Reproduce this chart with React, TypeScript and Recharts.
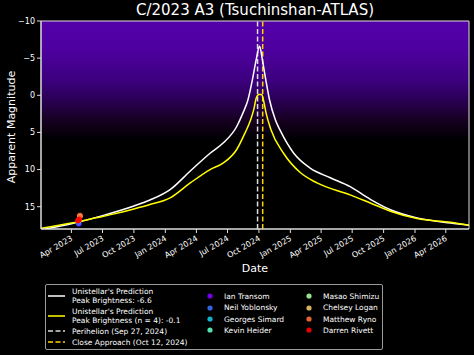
import React from 'react';
import { ComposedChart, Line, Scatter, XAxis, YAxis, ReferenceArea, ReferenceLine } from 'recharts';

const FONT = 'DejaVu Sans, Verdana, sans-serif';
const toT = (s: string) => Date.parse(s + 'T00:00:00Z');

// ---- axes ----
const xStart = '2023-01-02';
const xEnd = '2026-06-08';
const xTickDates = ['2023-04-01', '2023-07-01', '2023-10-01', '2024-01-01', '2024-04-01', '2024-07-01', '2024-10-01', '2025-01-01', '2025-04-01', '2025-07-01', '2025-10-01', '2026-01-01', '2026-04-01'];
const xTickLabels = ['Apr 2023', 'Jul 2023', 'Oct 2023', 'Jan 2024', 'Apr 2024', 'Jul 2024', 'Oct 2024', 'Jan 2025', 'Apr 2025', 'Jul 2025', 'Oct 2025', 'Jan 2026', 'Apr 2026'];
const yTicks = [-10, -5, 0, 5, 10, 15];
const yMin = -10;
const yMax = 18;
const glowBottom = 6;

// ---- prediction curves ----
const whiteDates = ['2023-01-02', '2023-04-01', '2023-07-01', '2023-10-01', '2023-11-17', '2024-01-15', '2024-03-14', '2024-05-11', '2024-06-19', '2024-07-28', '2024-08-15', '2024-08-30', '2024-09-12', '2024-09-23', '2024-10-03', '2024-10-11', '2024-10-21', '2024-11-01', '2024-11-18', '2024-12-03', '2025-01-11', '2025-02-28', '2025-04-28', '2025-06-25', '2025-08-23', '2025-10-21', '2026-01-07', '2026-04-15', '2026-06-08'];
const whiteMags = [18.1, 17.3, 16.2, 14.9, 14.1, 12.7, 10.2, 7.8, 6.4, 4.2, 2.4, 0.6, -2.1, -4.8, -6.6, -4.8, -2.1, 0.6, 3.3, 4.8, 7.8, 9.8, 11.1, 12.3, 14.0, 15.4, 16.5, 17.2, 17.5];

const yellowDates = ['2023-01-02', '2023-04-01', '2023-06-12', '2023-08-01', '2023-10-01', '2023-11-17', '2024-01-15', '2024-03-14', '2024-05-11', '2024-06-19', '2024-07-28', '2024-08-20', '2024-09-06', '2024-09-16', '2024-09-23', '2024-10-01', '2024-10-09', '2024-10-15', '2024-10-22', '2024-11-05', '2024-12-12', '2025-01-30', '2025-03-20', '2025-06-25', '2025-08-23', '2025-10-21', '2026-01-07', '2026-04-15', '2026-06-08'];
const yellowMags = [17.9, 17.2, 16.5, 16.0, 15.3, 14.7, 13.8, 11.8, 10.0, 9.1, 7.3, 5.2, 3.4, 1.9, 0.4, -0.1, -0.1, 0.8, 2.4, 4.6, 7.8, 10.4, 11.8, 13.4, 14.5, 15.6, 16.6, 17.1, 17.5];

// ---- events ----
const perihelionDate = '2024-09-27';
const closeApproachDate = '2024-10-12';

// ---- observers ----
const observerNames = ['Ian Transom', 'Neil Yoblonsky', 'Georges Simard', 'Kevin Heider', 'Masao Shimizu', 'Chelsey Logan', 'Matthew Ryno', 'Darren Rivett'];
const observerColors = ['#8000ff', '#376ff9', '#12c7e6', '#5bf9c7', '#a4f99f', '#edc76f', '#ff6f39', '#ff0000'];
const observerDates = [
  ['2023-04-23'],
  ['2023-04-22'],
  ['2023-04-22'],
  ['2023-04-23'],
  ['2023-04-23'],
  ['2023-04-26'],
  ['2023-04-26'],
  ['2023-04-20', '2023-04-22', '2023-04-24'],
];
const observerMags = [
  [17.3],
  [17.2],
  [16.9],
  [16.8],
  [16.8],
  [16.3],
  [16.2],
  [16.9, 16.8, 16.7],
];

const whiteData = whiteDates.map((d, i) => ({ t: toT(d), mag: whiteMags[i] }));
const yellowData = yellowDates.map((d, i) => ({ t: toT(d), mag: yellowMags[i] }));
const observerData = observerNames.map((_, k) => observerDates[k].map((d, i) => ({ t: toT(d), mag: observerMags[k][i] })));
const xTicks = xTickDates.map(toT);

const fmtY = (v: number) => (v < 0 ? '\u2212' + Math.abs(v) : String(v));

const XTick = (props: any) => {
  const { x, y, payload } = props;
  const idx = xTicks.indexOf(payload.value);
  return (
    <g transform={`translate(${x - 1},${y})`}>
      <text textAnchor="end" transform="rotate(-30)" fontSize={8} fill="#fff" fontFamily={FONT} dy="0.72em">
        {xTickLabels[idx]}
      </text>
    </g>
  );
};

const YLabel = (props: any) => {
  const vb = props.viewBox || { x: 0, y: 21, width: 41, height: 208 };
  const cx = vb.x + 15;
  const cy = vb.y + vb.height / 2 + 2;
  return (
    <text x={cx} y={cy} transform={`rotate(-90, ${cx}, ${cy})`} textAnchor="middle" fontSize={11} fill="#fff" fontFamily={FONT}>
      Apparent Magnitude
    </text>
  );
};

const dotShape = (color: string) => (p: any) => <circle cx={p.cx} cy={p.cy} r={2.8} fill={color} fillOpacity={0.9} />;

const LegendLine = ({ color, dashed }: { color: string; dashed?: boolean }) => (
  <svg width={17} height={4} style={{ display: 'block', flex: 'none' }}>
    <line x1={0} y1={2} x2={17} y2={2} stroke={color} strokeWidth={1.5} strokeDasharray={dashed ? '5 2.5' : undefined} />
  </svg>
);

const LegendDot = ({ color }: { color: string }) => (
  <svg width={6} height={6} style={{ display: 'block', flex: 'none' }}>
    <circle cx={3} cy={3} r={2.6} fill={color} fillOpacity={0.9} />
  </svg>
);

const legendText: React.CSSProperties = { fontSize: 7.5, lineHeight: '9px', color: '#fff', fontFamily: FONT, whiteSpace: 'nowrap' };

const col1 = [
  { lines: ["Unistellar's Prediction", 'Peak Brightness: -6.6'], color: '#ffffff', dashed: false, cy: 12 },
  { lines: ["Unistellar's Prediction", 'Peak Brightness (n = 4): -0.1'], color: '#ffff00', dashed: false, cy: 31.5 },
  { lines: ['Perihelion (Sep 27, 2024)'], color: '#dddddd', dashed: true, cy: 47 },
  { lines: ['Close Approach (Oct 12, 2024)'], color: '#ffd400', dashed: true, cy: 58.3 },
];
const rowCy = [12.3, 23.7, 35, 46];

export default function App() {
  return (
    <div style={{ position: 'absolute', left: 0, top: 0, width: 474, height: 355, background: '#000', overflow: 'hidden' }}>
      <div style={{ position: 'absolute', left: 41, width: 428, top: 2, textAlign: 'center', fontSize: 15, lineHeight: '17px', color: '#fff', fontFamily: FONT }}>
        C/2023 A3 (Tsuchinshan-ATLAS)
      </div>
      <ComposedChart width={474} height={355} margin={{ top: 21, right: 5, bottom: 83, left: 0 }} style={{ position: 'absolute', left: 0, top: 0 }}>
        <defs>
          <linearGradient id="glow" x1="0" y1="0" x2="0" y2="1">
            <stop offset="0" stopColor="#5400aa" />
            <stop offset="0.25" stopColor="#4d009f" />
            <stop offset="0.5" stopColor="#3c007e" />
            <stop offset="0.66" stopColor="#2a0056" />
            <stop offset="0.83" stopColor="#170022" />
            <stop offset="1" stopColor="#000000" />
          </linearGradient>
        </defs>
        <XAxis
          dataKey="t"
          type="number"
          domain={[toT(xStart), toT(xEnd)]}
          ticks={xTicks}
          interval={0}
          tick={<XTick />}
          tickSize={4}
          tickLine={{ stroke: '#ddd' }}
          axisLine={{ stroke: '#ddd' }}
          height={43}
          allowDataOverflow
          label={{ value: 'Date', position: 'insideBottom', offset: 0, fill: '#fff', fontSize: 11, fontFamily: FONT }}
        />
        <YAxis
          type="number"
          reversed
          domain={[yMin, yMax]}
          ticks={yTicks}
          interval={0}
          tickFormatter={fmtY}
          tick={{ fill: '#fff', fontSize: 8, fontFamily: FONT }}
          tickSize={4}
          tickLine={{ stroke: '#ddd' }}
          axisLine={{ stroke: '#ddd' }}
          width={41}
          allowDataOverflow
          label={<YLabel />}
        />
        <ReferenceArea x1={toT(xStart)} x2={toT(xEnd)} y1={yMin} y2={glowBottom} fill="url(#glow)" fillOpacity={1} stroke="none" />
        <ReferenceLine x={toT(perihelionDate)} stroke="#dddddd" strokeWidth={1.5} strokeDasharray="5 2.5" />
        <ReferenceLine x={toT(closeApproachDate)} stroke="#ffd400" strokeWidth={1.5} strokeDasharray="5 2.5" />
        <Line data={whiteData} dataKey="mag" type="monotone" stroke="#ffffff" strokeWidth={1.5} dot={false} isAnimationActive={false} />
        <Line data={yellowData} dataKey="mag" type="monotone" stroke="#ffff00" strokeWidth={1.5} dot={false} isAnimationActive={false} />
        {observerNames.map((name, k) => (
          <Scatter key={name} name={name} data={observerData[k]} dataKey="mag" shape={dotShape(observerColors[k])} isAnimationActive={false} />
        ))}
        <ReferenceArea x1={toT(xStart)} x2={toT(xEnd)} y1={yMin} y2={yMax} fill="none" stroke="#dddddd" strokeWidth={1} />
      </ComposedChart>
      <div style={{ position: 'absolute', left: 45, top: 284, width: 338, height: 66, border: '1px solid #9a9a9a', borderRadius: 2, boxSizing: 'border-box', background: '#000' }}>
        {col1.map((e, i) => (
          <div key={i} style={{ position: 'absolute', left: 2, top: e.cy - (e.lines.length * 9) / 2 - 1, display: 'flex', alignItems: 'center' }}>
            <LegendLine color={e.color} dashed={e.dashed} />
            <div style={{ ...legendText, marginLeft: 7 }}>
              {e.lines.map((l, j) => (
                <div key={j}>{l}</div>
              ))}
            </div>
          </div>
        ))}
        {observerNames.map((name, k) => (
          <div key={name} style={{ position: 'absolute', left: k < 4 ? 161 : 260, top: rowCy[k % 4] - 4.5 - 1, display: 'flex', alignItems: 'center', height: 9 }}>
            <LegendDot color={observerColors[k]} />
            <div style={{ ...legendText, marginLeft: 11 }}>{name}</div>
          </div>
        ))}
      </div>
    </div>
  );
}
